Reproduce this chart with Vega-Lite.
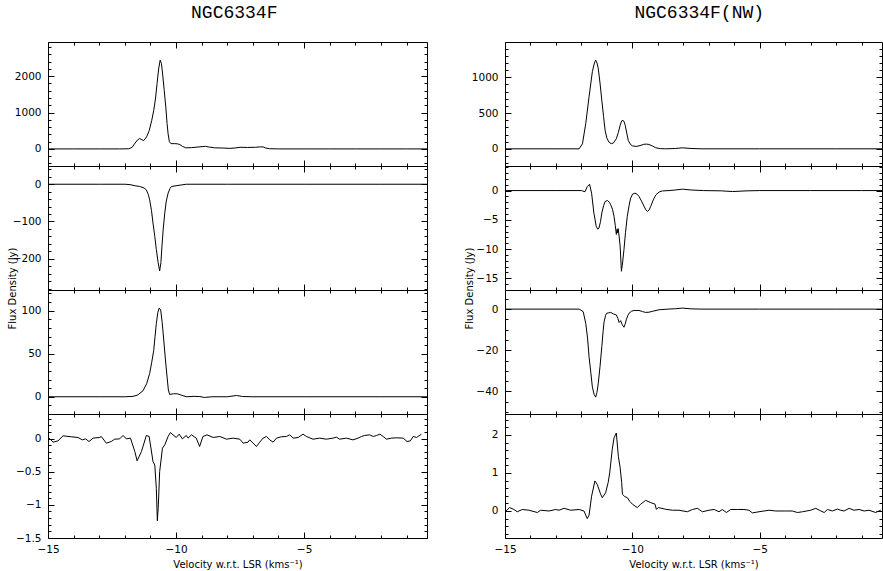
{
  "$schema": "https://vega.github.io/schema/vega-lite/v6.json",
  "background": "white",
  "padding": {"left": 7, "top": 3, "right": 0, "bottom": 0},
  "config": {
    "view": {"stroke": null},
    "axis": {"grid": false, "domainColor": "black", "domainWidth": 1, "tickColor": "black", "tickWidth": 1, "labelColor": "black", "labelFont": "DejaVu Sans", "labelFontSize": 10.5, "labelFlush": false, "labelOverlap": false, "labelBound": false, "titleFont": "DejaVu Sans", "titleFontSize": 10, "titleFontWeight": "normal", "titleColor": "black"},
    "line": {"color": "black", "strokeWidth": 1}
  },
  "datasets": {
    "L1": [{"v":-15,"f":0},{"v":-14,"f":0},{"v":-13,"f":0},{"v":-12.2,"f":0},{"v":-11.85,"f":3},{"v":-11.72,"f":40},{"v":-11.6,"f":160},{"v":-11.5,"f":250},{"v":-11.42,"f":285},{"v":-11.33,"f":250},{"v":-11.26,"f":230},{"v":-11.15,"f":330},{"v":-11.05,"f":500},{"v":-10.95,"f":780},{"v":-10.87,"f":1060},{"v":-10.8,"f":1400},{"v":-10.74,"f":1800},{"v":-10.68,"f":2200},{"v":-10.62,"f":2440},{"v":-10.57,"f":2350},{"v":-10.52,"f":2030},{"v":-10.46,"f":1600},{"v":-10.4,"f":1150},{"v":-10.35,"f":700},{"v":-10.31,"f":414},{"v":-10.26,"f":200},{"v":-10.2,"f":145},{"v":-10.05,"f":145},{"v":-9.95,"f":140},{"v":-9.85,"f":120},{"v":-9.75,"f":70},{"v":-9.62,"f":30},{"v":-9.4,"f":35},{"v":-9.1,"f":55},{"v":-8.95,"f":65},{"v":-8.85,"f":70},{"v":-8.7,"f":50},{"v":-8.5,"f":30},{"v":-8.2,"f":25},{"v":-7.9,"f":15},{"v":-7.7,"f":25},{"v":-7.5,"f":45},{"v":-7.2,"f":40},{"v":-6.9,"f":45},{"v":-6.7,"f":55},{"v":-6.6,"f":55},{"v":-6.5,"f":25},{"v":-6.35,"f":5},{"v":-6,"f":0},{"v":-5,"f":0},{"v":-4,"f":0},{"v":-3,"f":0},{"v":-2,"f":0},{"v":-1,"f":0},{"v":-0.2,"f":0}],
    "L2": [{"v":-15,"f":0},{"v":-13,"f":0},{"v":-12,"f":0},{"v":-11.8,"f":-1},{"v":-11.6,"f":-4},{"v":-11.42,"f":-6},{"v":-11.25,"f":-10},{"v":-11.16,"f":-15},{"v":-11.08,"f":-28},{"v":-11.03,"f":-42},{"v":-10.96,"f":-70},{"v":-10.9,"f":-104},{"v":-10.83,"f":-140},{"v":-10.77,"f":-175},{"v":-10.7,"f":-210},{"v":-10.64,"f":-233},{"v":-10.59,"f":-210},{"v":-10.55,"f":-166},{"v":-10.5,"f":-120},{"v":-10.44,"f":-77},{"v":-10.38,"f":-45},{"v":-10.31,"f":-24},{"v":-10.24,"f":-12},{"v":-10.18,"f":-6},{"v":-10.0,"f":-4},{"v":-9.8,"f":-2},{"v":-9.6,"f":0},{"v":-8,"f":0},{"v":-5,"f":0},{"v":-2,"f":0},{"v":-0.2,"f":0}],
    "L3": [{"v":-15,"f":0},{"v":-13,"f":0},{"v":-12,"f":0},{"v":-11.68,"f":0.5},{"v":-11.5,"f":2},{"v":-11.29,"f":7},{"v":-11.15,"f":15},{"v":-11.03,"f":27},{"v":-10.95,"f":40},{"v":-10.87,"f":54},{"v":-10.82,"f":70},{"v":-10.77,"f":85},{"v":-10.71,"f":98},{"v":-10.66,"f":103},{"v":-10.6,"f":101},{"v":-10.54,"f":86},{"v":-10.48,"f":66},{"v":-10.42,"f":45},{"v":-10.35,"f":23},{"v":-10.3,"f":8},{"v":-10.25,"f":2.7},{"v":-10.1,"f":3.5},{"v":-9.95,"f":3.5},{"v":-9.8,"f":2},{"v":-9.6,"f":0},{"v":-9.3,"f":0.5},{"v":-9.07,"f":0.3},{"v":-8.9,"f":-0.8},{"v":-8.6,"f":0},{"v":-8,"f":0},{"v":-7.64,"f":1.5},{"v":-7.4,"f":0.3},{"v":-7,"f":0},{"v":-5,"f":0},{"v":-2,"f":0},{"v":-0.2,"f":0}],
    "L4": [{"v":-14.96,"f":0.006},{"v":-14.8,"f":-0.055},{"v":-14.61,"f":-0.035},{"v":-14.41,"f":0.041},{"v":-14.09,"f":0.026},{"v":-13.83,"f":0.016},{"v":-13.66,"f":-0.02},{"v":-13.53,"f":-0.005},{"v":-13.4,"f":-0.045},{"v":-13.24,"f":0.006},{"v":-12.98,"f":0.016},{"v":-12.92,"f":0.031},{"v":-12.72,"f":-0.07},{"v":-12.53,"f":-0.045},{"v":-12.4,"f":-0.01},{"v":-12.2,"f":-0.005},{"v":-12.07,"f":0.046},{"v":-11.94,"f":-0.005},{"v":-11.78,"f":0.006},{"v":-11.61,"f":-0.195},{"v":-11.52,"f":-0.336},{"v":-11.35,"f":-0.195},{"v":-11.16,"f":0.046},{"v":-11.05,"f":0.031},{"v":-10.9,"f":-0.346},{"v":-10.83,"f":-0.4},{"v":-10.77,"f":-0.75},{"v":-10.73,"f":-1.24},{"v":-10.69,"f":-1.0},{"v":-10.64,"f":-0.5},{"v":-10.53,"f":-0.145},{"v":-10.44,"f":-0.095},{"v":-10.31,"f":0.031},{"v":-10.22,"f":0.091},{"v":-10.12,"f":0.056},{"v":-9.99,"f":0.016},{"v":-9.88,"f":0.066},{"v":-9.75,"f":-0.005},{"v":-9.6,"f":0.046},{"v":-9.53,"f":0.006},{"v":-9.4,"f":0.056},{"v":-9.21,"f":0.006},{"v":-9.08,"f":-0.12},{"v":-8.95,"f":0.031},{"v":-8.79,"f":0.056},{"v":-8.55,"f":0.016},{"v":-8.29,"f":0.031},{"v":-8.03,"f":-0.01},{"v":-7.77,"f":0.006},{"v":-7.51,"f":-0.01},{"v":-7.38,"f":-0.07},{"v":-7.19,"f":-0.055},{"v":-7.12,"f":-0.02},{"v":-6.99,"f":-0.07},{"v":-6.86,"f":-0.12},{"v":-6.73,"f":-0.055},{"v":-6.6,"f":0.006},{"v":-6.47,"f":0.031},{"v":-6.34,"f":-0.02},{"v":-6.21,"f":-0.055},{"v":-6.08,"f":0.006},{"v":-5.89,"f":0.026},{"v":-5.69,"f":0.031},{"v":-5.56,"f":0.056},{"v":-5.43,"f":0.006},{"v":-5.23,"f":0.016},{"v":-5.04,"f":0.066},{"v":-4.91,"f":0.031},{"v":-4.65,"f":-0.01},{"v":-4.39,"f":0.006},{"v":-4.13,"f":-0.01},{"v":-3.87,"f":0.006},{"v":-3.74,"f":0.021},{"v":-3.61,"f":-0.01},{"v":-3.35,"f":0.006},{"v":-3.09,"f":-0.02},{"v":-2.89,"f":0.006},{"v":-2.76,"f":0.031},{"v":-2.63,"f":0.046},{"v":-2.44,"f":0.056},{"v":-2.3,"f":0.031},{"v":-2.17,"f":0.046},{"v":-2.04,"f":0.066},{"v":-1.91,"f":0.031},{"v":-1.78,"f":-0.01},{"v":-1.59,"f":0.006},{"v":-1.39,"f":0.011},{"v":-1.13,"f":0.006},{"v":-0.98,"f":-0.045},{"v":-0.85,"f":-0.035},{"v":-0.74,"f":0.031},{"v":-0.61,"f":0.016},{"v":-0.42,"f":0.066}],
    "R1": [{"v":-15,"f":0},{"v":-13,"f":0},{"v":-12.09,"f":0},{"v":-11.96,"f":70},{"v":-11.83,"f":352},{"v":-11.7,"f":727},{"v":-11.57,"f":1079},{"v":-11.49,"f":1200},{"v":-11.44,"f":1240},{"v":-11.39,"f":1200},{"v":-11.34,"f":1127},{"v":-11.27,"f":920},{"v":-11.2,"f":680},{"v":-11.13,"f":450},{"v":-11.07,"f":258},{"v":-11.0,"f":150},{"v":-10.92,"f":93},{"v":-10.83,"f":72},{"v":-10.75,"f":80},{"v":-10.63,"f":141},{"v":-10.55,"f":230},{"v":-10.48,"f":328},{"v":-10.42,"f":390},{"v":-10.37,"f":400},{"v":-10.32,"f":375},{"v":-10.28,"f":328},{"v":-10.22,"f":220},{"v":-10.16,"f":117},{"v":-10.08,"f":65},{"v":-10.0,"f":42},{"v":-9.85,"f":33},{"v":-9.7,"f":45},{"v":-9.55,"f":63},{"v":-9.45,"f":66},{"v":-9.35,"f":61},{"v":-9.2,"f":38},{"v":-9.08,"f":14},{"v":-8.9,"f":3},{"v":-8.7,"f":0},{"v":-8.3,"f":5},{"v":-8.04,"f":14},{"v":-7.7,"f":5},{"v":-7.3,"f":0},{"v":-5,"f":0},{"v":-2,"f":0},{"v":-0.2,"f":0}],
    "R2": [{"v":-15,"f":0},{"v":-13,"f":0},{"v":-12,"f":0},{"v":-11.86,"f":-0.2},{"v":-11.77,"f":0.68},{"v":-11.68,"f":1.08},{"v":-11.6,"f":-0.45},{"v":-11.51,"f":-3.85},{"v":-11.42,"f":-6.1},{"v":-11.36,"f":-6.6},{"v":-11.31,"f":-6.4},{"v":-11.25,"f":-5.3},{"v":-11.2,"f":-3.85},{"v":-11.13,"f":-2.6},{"v":-11.07,"f":-1.87},{"v":-10.98,"f":-1.7},{"v":-10.9,"f":-2.0},{"v":-10.85,"f":-2.43},{"v":-10.78,"f":-3.2},{"v":-10.72,"f":-4.4},{"v":-10.67,"f":-6.0},{"v":-10.63,"f":-7.5},{"v":-10.6,"f":-6.6},{"v":-10.58,"f":-7.2},{"v":-10.56,"f":-6.5},{"v":-10.52,"f":-7.8},{"v":-10.48,"f":-9.5},{"v":-10.43,"f":-13.8},{"v":-10.38,"f":-12.2},{"v":-10.33,"f":-10.1},{"v":-10.27,"f":-7.2},{"v":-10.2,"f":-4.4},{"v":-10.13,"f":-2.6},{"v":-10.07,"f":-1.3},{"v":-9.99,"f":-0.6},{"v":-9.9,"f":-0.45},{"v":-9.82,"f":-0.6},{"v":-9.74,"f":-1.0},{"v":-9.64,"f":-1.8},{"v":-9.54,"f":-2.7},{"v":-9.47,"f":-3.3},{"v":-9.41,"f":-3.57},{"v":-9.34,"f":-3.3},{"v":-9.28,"f":-2.7},{"v":-9.18,"f":-1.6},{"v":-9.08,"f":-0.74},{"v":-8.95,"f":-0.25},{"v":-8.82,"f":-0.06},{"v":-8.56,"f":0},{"v":-8.3,"f":0.1},{"v":-8.04,"f":0.24},{"v":-7.7,"f":0.1},{"v":-7.2,"f":0},{"v":-6.5,"f":-0.05},{"v":-6.07,"f":-0.17},{"v":-5.5,"f":-0.05},{"v":-5,"f":0},{"v":-3,"f":0},{"v":-1,"f":0},{"v":-0.2,"f":0}],
    "R3": [{"v":-15,"f":0},{"v":-13,"f":0},{"v":-12.09,"f":0},{"v":-11.93,"f":-1.2},{"v":-11.83,"f":-6.9},{"v":-11.76,"f":-14},{"v":-11.7,"f":-23.2},{"v":-11.63,"f":-31},{"v":-11.57,"f":-37.9},{"v":-11.5,"f":-41.5},{"v":-11.44,"f":-42.8},{"v":-11.39,"f":-40.5},{"v":-11.34,"f":-36.3},{"v":-11.27,"f":-28},{"v":-11.2,"f":-18.3},{"v":-11.15,"f":-11},{"v":-11.11,"f":-6.1},{"v":-11.05,"f":-3},{"v":-11.01,"f":-2.0},{"v":-10.93,"f":-1.8},{"v":-10.85,"f":-1.6},{"v":-10.75,"f":-2.3},{"v":-10.68,"f":-2.6},{"v":-10.63,"f":-2.8},{"v":-10.57,"f":-4.5},{"v":-10.52,"f":-6.5},{"v":-10.46,"f":-5.6},{"v":-10.4,"f":-7.5},{"v":-10.33,"f":-8.8},{"v":-10.28,"f":-7.2},{"v":-10.24,"f":-5.2},{"v":-10.18,"f":-3.2},{"v":-10.13,"f":-2.0},{"v":-10.03,"f":-1.0},{"v":-9.93,"f":-0.65},{"v":-9.74,"f":-0.65},{"v":-9.6,"f":-1.2},{"v":-9.48,"f":-1.6},{"v":-9.35,"f":-1.5},{"v":-9.22,"f":-1.1},{"v":-8.95,"f":-0.3},{"v":-8.6,"f":0},{"v":-8.3,"f":0.2},{"v":-8.04,"f":0.5},{"v":-7.7,"f":0.15},{"v":-7.3,"f":0},{"v":-5,"f":0},{"v":-2,"f":0},{"v":-0.2,"f":0}],
    "R4": [{"v":-15,"f":-0.02},{"v":-14.82,"f":0.09},{"v":-14.65,"f":0.04},{"v":-14.52,"f":-0.02},{"v":-14.32,"f":0.04},{"v":-14.06,"f":0.02},{"v":-13.73,"f":-0.04},{"v":-13.6,"f":0.02},{"v":-13.27,"f":0},{"v":-13.01,"f":0.04},{"v":-12.88,"f":0.02},{"v":-12.68,"f":0.07},{"v":-12.42,"f":0.02},{"v":-12.09,"f":0.04},{"v":-11.9,"f":0.0},{"v":-11.77,"f":-0.2},{"v":-11.7,"f":-0.11},{"v":-11.6,"f":0.39},{"v":-11.47,"f":0.79},{"v":-11.38,"f":0.7},{"v":-11.25,"f":0.45},{"v":-11.18,"f":0.35},{"v":-11.05,"f":0.48},{"v":-10.95,"f":0.75},{"v":-10.89,"f":1.0},{"v":-10.79,"f":1.62},{"v":-10.72,"f":1.92},{"v":-10.63,"f":2.05},{"v":-10.55,"f":1.44},{"v":-10.48,"f":1.14},{"v":-10.42,"f":0.75},{"v":-10.39,"f":0.44},{"v":-10.3,"f":0.38},{"v":-10.2,"f":0.35},{"v":-10.1,"f":0.25},{"v":-10.0,"f":0.18},{"v":-9.81,"f":0.09},{"v":-9.67,"f":0.18},{"v":-9.48,"f":0.28},{"v":-9.28,"f":0.22},{"v":-9.11,"f":0.18},{"v":-9.06,"f":0.045},{"v":-8.98,"f":0.09},{"v":-8.69,"f":0.045},{"v":-8.43,"f":0.02},{"v":-8.17,"f":0.02},{"v":-7.84,"f":-0.02},{"v":-7.64,"f":0.04},{"v":-7.45,"f":0.07},{"v":-7.25,"f":-0.02},{"v":-6.99,"f":0.02},{"v":-6.79,"f":0.04},{"v":-6.6,"f":-0.02},{"v":-6.47,"f":0.04},{"v":-6.31,"f":-0.04},{"v":-6.14,"f":0.04},{"v":-5.88,"f":0.04},{"v":-5.62,"f":0.04},{"v":-5.42,"f":0.02},{"v":-5.29,"f":-0.05},{"v":-5.03,"f":-0.02},{"v":-4.63,"f":0.02},{"v":-4.37,"f":0},{"v":-3.98,"f":0},{"v":-3.72,"f":0},{"v":-3.52,"f":-0.04},{"v":-3.32,"f":-0.02},{"v":-3.0,"f":0.02},{"v":-2.8,"f":0.07},{"v":-2.6,"f":0},{"v":-2.47,"f":-0.04},{"v":-2.34,"f":0.04},{"v":-2.15,"f":0},{"v":-1.95,"f":0.05},{"v":-1.82,"f":0.02},{"v":-1.69,"f":0},{"v":-1.49,"f":0.07},{"v":-1.3,"f":0.02},{"v":-1.1,"f":0.04},{"v":-0.9,"f":0},{"v":-0.71,"f":0.02},{"v":-0.45,"f":-0.04},{"v":-0.25,"f":0.02}]
  },
  "hconcat": [
    {
      "title": {"text": "NGC6334F", "font": "Liberation Mono", "fontSize": 18, "fontWeight": "normal", "color": "black", "anchor": "middle", "offset": 20, "dx": 17},
      "spacing": 0,
      "bounds": "flush",
      "vconcat": [
        {"width": 379, "height": 124, "data": {"name": "L1"},
         "layer": [
          {"mark": {"type": "line", "clip": true},
           "encoding": {
            "x": {"field": "v", "type": "quantitative", "scale": {"domain": [-15, -0.2], "nice": false, "zero": false},
                  "axis": {"orient": "bottom", "values": [-15,-14,-13,-12,-11,-10,-9,-8,-7,-6,-5,-4,-3,-2,-1], "tickSize": {"condition": {"test": "datum.value % 5 === 0", "value": -6}, "value": -3}, "labels": false, "title": null}},
            "y": {"field": "f", "type": "quantitative", "scale": {"domain": [-470, 2940], "nice": false, "zero": false},
                  "axis": {"orient": "left", "values": [-400,-200,0,200,400,600,800,1000,1200,1400,1600,1800,2000,2200,2400,2600,2800], "format": "~f", "tickSize": {"condition": {"test": "abs(datum.value) % 1000 === 0", "value": -6}, "value": -3}, "labelExpr": "abs(datum.value) % 1000 === 0 ? datum.label : ''", "labelPadding": 13, "title": null}}
           }},
          {"mark": {"type": "line", "opacity": 0},
           "encoding": {
            "x": {"field": "v", "type": "quantitative", "scale": {"domain": [-15, -0.2], "nice": false, "zero": false},
                  "axis": {"orient": "top", "values": [-15,-14,-13,-12,-11,-10,-9,-8,-7,-6,-5,-4,-3,-2,-1], "tickSize": {"condition": {"test": "datum.value % 5 === 0", "value": -6}, "value": -3}, "labels": false, "title": null}},
            "y": {"field": "f", "type": "quantitative", "scale": {"domain": [-470, 2940], "nice": false, "zero": false},
                  "axis": {"orient": "right", "values": [-400,-200,0,200,400,600,800,1000,1200,1400,1600,1800,2000,2200,2400,2600,2800], "tickSize": {"condition": {"test": "abs(datum.value) % 1000 === 0", "value": -6}, "value": -3}, "labels": false, "title": null}}
           }}
         ],
         "resolve": {"axis": {"x": "independent", "y": "independent"}}
        },
        {"width": 379, "height": 124, "data": {"name": "L2"},
         "layer": [
          {"mark": {"type": "line", "clip": true},
           "encoding": {
            "x": {"field": "v", "type": "quantitative", "scale": {"domain": [-15, -0.2], "nice": false, "zero": false},
                  "axis": {"orient": "bottom", "values": [-15,-14,-13,-12,-11,-10,-9,-8,-7,-6,-5,-4,-3,-2,-1], "tickSize": {"condition": {"test": "datum.value % 5 === 0", "value": -6}, "value": -3}, "labels": false, "title": null}},
            "y": {"field": "f", "type": "quantitative", "scale": {"domain": [-284, 49], "nice": false, "zero": false},
                  "axis": {"orient": "left", "values": [-280,-260,-240,-220,-200,-180,-160,-140,-120,-100,-80,-60,-40,-20,0,20,40], "format": "~f", "tickSize": {"condition": {"test": "abs(datum.value) % 100 === 0", "value": -6}, "value": -3}, "labelExpr": "abs(datum.value) % 100 === 0 ? datum.label : ''", "labelPadding": 13, "title": "Flux Density (Jy)", "titleX": -36, "titleY": 122, "titleAngle": 270, "titleAlign": "center", "titleBaseline": "middle"}}
           }},
          {"mark": {"type": "line", "opacity": 0},
           "encoding": {
            "x": {"field": "v", "type": "quantitative", "scale": {"domain": [-15, -0.2], "nice": false, "zero": false},
                  "axis": {"orient": "top", "values": [-15,-14,-13,-12,-11,-10,-9,-8,-7,-6,-5,-4,-3,-2,-1], "tickSize": {"condition": {"test": "datum.value % 5 === 0", "value": -6}, "value": -3}, "labels": false, "title": null}},
            "y": {"field": "f", "type": "quantitative", "scale": {"domain": [-284, 49], "nice": false, "zero": false},
                  "axis": {"orient": "right", "values": [-280,-260,-240,-220,-200,-180,-160,-140,-120,-100,-80,-60,-40,-20,0,20,40], "tickSize": {"condition": {"test": "abs(datum.value) % 100 === 0", "value": -6}, "value": -3}, "labels": false, "title": null}}
           }}
         ],
         "resolve": {"axis": {"x": "independent", "y": "independent"}}
        },
        {"width": 379, "height": 124, "data": {"name": "L3"},
         "layer": [
          {"mark": {"type": "line", "clip": true},
           "encoding": {
            "x": {"field": "v", "type": "quantitative", "scale": {"domain": [-15, -0.2], "nice": false, "zero": false},
                  "axis": {"orient": "bottom", "values": [-15,-14,-13,-12,-11,-10,-9,-8,-7,-6,-5,-4,-3,-2,-1], "tickSize": {"condition": {"test": "datum.value % 5 === 0", "value": -6}, "value": -3}, "labels": false, "title": null}},
            "y": {"field": "f", "type": "quantitative", "scale": {"domain": [-20, 124], "nice": false, "zero": false},
                  "axis": {"orient": "left", "values": [-20,-10,0,10,20,30,40,50,60,70,80,90,100,110,120], "format": "~f", "tickSize": {"condition": {"test": "abs(datum.value) % 50 === 0", "value": -6}, "value": -3}, "labelExpr": "abs(datum.value) % 50 === 0 ? datum.label : ''", "labelPadding": 13, "title": null}}
           }},
          {"mark": {"type": "line", "opacity": 0},
           "encoding": {
            "x": {"field": "v", "type": "quantitative", "scale": {"domain": [-15, -0.2], "nice": false, "zero": false},
                  "axis": {"orient": "top", "values": [-15,-14,-13,-12,-11,-10,-9,-8,-7,-6,-5,-4,-3,-2,-1], "tickSize": {"condition": {"test": "datum.value % 5 === 0", "value": -6}, "value": -3}, "labels": false, "title": null}},
            "y": {"field": "f", "type": "quantitative", "scale": {"domain": [-20, 124], "nice": false, "zero": false},
                  "axis": {"orient": "right", "values": [-20,-10,0,10,20,30,40,50,60,70,80,90,100,110,120], "tickSize": {"condition": {"test": "abs(datum.value) % 50 === 0", "value": -6}, "value": -3}, "labels": false, "title": null}}
           }}
         ],
         "resolve": {"axis": {"x": "independent", "y": "independent"}}
        },
        {"width": 379, "height": 124, "data": {"name": "L4"},
         "layer": [
          {"mark": {"type": "line", "clip": true},
           "encoding": {
            "x": {"field": "v", "type": "quantitative", "scale": {"domain": [-15, -0.2], "nice": false, "zero": false},
                  "axis": {"orient": "bottom", "values": [-15,-14,-13,-12,-11,-10,-9,-8,-7,-6,-5,-4,-3,-2,-1], "format": "~f", "tickSize": {"condition": {"test": "datum.value % 5 === 0", "value": -6}, "value": -3}, "labelExpr": "datum.value % 5 === 0 ? datum.label : ''", "labelPadding": 12, "title": "Velocity w.r.t. LSR (kms⁻¹)", "titlePadding": 2}},
            "y": {"field": "f", "type": "quantitative", "scale": {"domain": [-1.5, 0.37], "nice": false, "zero": false},
                  "axis": {"orient": "left", "values": [-1.5,-1.4,-1.3,-1.2,-1.1,-1,-0.9,-0.8,-0.7,-0.6,-0.5,-0.4,-0.3,-0.2,-0.1,0,0.1,0.2,0.3], "format": "~f", "tickSize": {"condition": {"test": "abs(round(datum.value*10)) % 5 === 0", "value": -6}, "value": -3}, "labelExpr": "abs(round(datum.value*10)) % 5 === 0 ? datum.label : ''", "labelPadding": 13, "title": null}}
           }},
          {"mark": {"type": "line", "opacity": 0},
           "encoding": {
            "x": {"field": "v", "type": "quantitative", "scale": {"domain": [-15, -0.2], "nice": false, "zero": false},
                  "axis": {"orient": "top", "values": [-15,-14,-13,-12,-11,-10,-9,-8,-7,-6,-5,-4,-3,-2,-1], "tickSize": {"condition": {"test": "datum.value % 5 === 0", "value": -6}, "value": -3}, "labels": false, "title": null}},
            "y": {"field": "f", "type": "quantitative", "scale": {"domain": [-1.5, 0.37], "nice": false, "zero": false},
                  "axis": {"orient": "right", "values": [-1.5,-1.4,-1.3,-1.2,-1.1,-1,-0.9,-0.8,-0.7,-0.6,-0.5,-0.4,-0.3,-0.2,-0.1,0,0.1,0.2,0.3], "tickSize": {"condition": {"test": "abs(round(datum.value*10)) % 5 === 0", "value": -6}, "value": -3}, "labels": false, "title": null}}
           }}
         ],
         "resolve": {"axis": {"x": "independent", "y": "independent"}}
        }
      ]
    },
    {
      "title": {"text": "NGC6334F(NW)", "font": "Liberation Mono", "fontSize": 18, "fontWeight": "normal", "color": "black", "anchor": "middle", "offset": 20, "dx": 26},
      "spacing": 0,
      "bounds": "flush",
      "vconcat": [
        {"width": 377, "height": 124, "data": {"name": "R1"},
         "layer": [
          {"mark": {"type": "line", "clip": true},
           "encoding": {
            "x": {"field": "v", "type": "quantitative", "scale": {"domain": [-15, -0.2], "nice": false, "zero": false},
                  "axis": {"orient": "bottom", "values": [-15,-14,-13,-12,-11,-10,-9,-8,-7,-6,-5,-4,-3,-2,-1], "tickSize": {"condition": {"test": "datum.value % 5 === 0", "value": -6}, "value": -3}, "labels": false, "title": null}},
            "y": {"field": "f", "type": "quantitative", "scale": {"domain": [-240, 1493], "nice": false, "zero": false},
                  "axis": {"orient": "left", "values": [-200,-100,0,100,200,300,400,500,600,700,800,900,1000,1100,1200,1300,1400], "format": "~f", "tickSize": {"condition": {"test": "abs(datum.value) % 500 === 0", "value": -6}, "value": -3}, "labelExpr": "abs(datum.value) % 500 === 0 ? datum.label : ''", "labelPadding": 13, "title": null}}
           }},
          {"mark": {"type": "line", "opacity": 0},
           "encoding": {
            "x": {"field": "v", "type": "quantitative", "scale": {"domain": [-15, -0.2], "nice": false, "zero": false},
                  "axis": {"orient": "top", "values": [-15,-14,-13,-12,-11,-10,-9,-8,-7,-6,-5,-4,-3,-2,-1], "tickSize": {"condition": {"test": "datum.value % 5 === 0", "value": -6}, "value": -3}, "labels": false, "title": null}},
            "y": {"field": "f", "type": "quantitative", "scale": {"domain": [-240, 1493], "nice": false, "zero": false},
                  "axis": {"orient": "right", "values": [-200,-100,0,100,200,300,400,500,600,700,800,900,1000,1100,1200,1300,1400], "tickSize": {"condition": {"test": "abs(datum.value) % 500 === 0", "value": -6}, "value": -3}, "labels": false, "title": null}}
           }}
         ],
         "resolve": {"axis": {"x": "independent", "y": "independent"}}
        },
        {"width": 377, "height": 124, "data": {"name": "R2"},
         "layer": [
          {"mark": {"type": "line", "clip": true},
           "encoding": {
            "x": {"field": "v", "type": "quantitative", "scale": {"domain": [-15, -0.2], "nice": false, "zero": false},
                  "axis": {"orient": "bottom", "values": [-15,-14,-13,-12,-11,-10,-9,-8,-7,-6,-5,-4,-3,-2,-1], "tickSize": {"condition": {"test": "datum.value % 5 === 0", "value": -6}, "value": -3}, "labels": false, "title": null}},
            "y": {"field": "f", "type": "quantitative", "scale": {"domain": [-17, 4.2], "nice": false, "zero": false},
                  "axis": {"orient": "left", "values": [-17,-16,-15,-14,-13,-12,-11,-10,-9,-8,-7,-6,-5,-4,-3,-2,-1,0,1,2,3,4], "format": "~f", "tickSize": {"condition": {"test": "abs(datum.value) % 5 === 0", "value": -6}, "value": -3}, "labelExpr": "abs(datum.value) % 5 === 0 ? datum.label : ''", "labelPadding": 13, "title": "Flux Density (Jy)", "titleX": -36, "titleY": 122, "titleAngle": 270, "titleAlign": "center", "titleBaseline": "middle"}}
           }},
          {"mark": {"type": "line", "opacity": 0},
           "encoding": {
            "x": {"field": "v", "type": "quantitative", "scale": {"domain": [-15, -0.2], "nice": false, "zero": false},
                  "axis": {"orient": "top", "values": [-15,-14,-13,-12,-11,-10,-9,-8,-7,-6,-5,-4,-3,-2,-1], "tickSize": {"condition": {"test": "datum.value % 5 === 0", "value": -6}, "value": -3}, "labels": false, "title": null}},
            "y": {"field": "f", "type": "quantitative", "scale": {"domain": [-17, 4.2], "nice": false, "zero": false},
                  "axis": {"orient": "right", "values": [-17,-16,-15,-14,-13,-12,-11,-10,-9,-8,-7,-6,-5,-4,-3,-2,-1,0,1,2,3,4], "tickSize": {"condition": {"test": "abs(datum.value) % 5 === 0", "value": -6}, "value": -3}, "labels": false, "title": null}}
           }}
         ],
         "resolve": {"axis": {"x": "independent", "y": "independent"}}
        },
        {"width": 377, "height": 124, "data": {"name": "R3"},
         "layer": [
          {"mark": {"type": "line", "clip": true},
           "encoding": {
            "x": {"field": "v", "type": "quantitative", "scale": {"domain": [-15, -0.2], "nice": false, "zero": false},
                  "axis": {"orient": "bottom", "values": [-15,-14,-13,-12,-11,-10,-9,-8,-7,-6,-5,-4,-3,-2,-1], "tickSize": {"condition": {"test": "datum.value % 5 === 0", "value": -6}, "value": -3}, "labels": false, "title": null}},
            "y": {"field": "f", "type": "quantitative", "scale": {"domain": [-51, 9.3], "nice": false, "zero": false},
                  "axis": {"orient": "left", "values": [-50,-45,-40,-35,-30,-25,-20,-15,-10,-5,0,5], "format": "~f", "tickSize": {"condition": {"test": "abs(datum.value) % 20 === 0", "value": -6}, "value": -3}, "labelExpr": "abs(datum.value) % 20 === 0 ? datum.label : ''", "labelPadding": 13, "title": null}}
           }},
          {"mark": {"type": "line", "opacity": 0},
           "encoding": {
            "x": {"field": "v", "type": "quantitative", "scale": {"domain": [-15, -0.2], "nice": false, "zero": false},
                  "axis": {"orient": "top", "values": [-15,-14,-13,-12,-11,-10,-9,-8,-7,-6,-5,-4,-3,-2,-1], "tickSize": {"condition": {"test": "datum.value % 5 === 0", "value": -6}, "value": -3}, "labels": false, "title": null}},
            "y": {"field": "f", "type": "quantitative", "scale": {"domain": [-51, 9.3], "nice": false, "zero": false},
                  "axis": {"orient": "right", "values": [-50,-45,-40,-35,-30,-25,-20,-15,-10,-5,0,5], "tickSize": {"condition": {"test": "abs(datum.value) % 20 === 0", "value": -6}, "value": -3}, "labels": false, "title": null}}
           }}
         ],
         "resolve": {"axis": {"x": "independent", "y": "independent"}}
        },
        {"width": 377, "height": 124, "data": {"name": "R4"},
         "layer": [
          {"mark": {"type": "line", "clip": true},
           "encoding": {
            "x": {"field": "v", "type": "quantitative", "scale": {"domain": [-15, -0.2], "nice": false, "zero": false},
                  "axis": {"orient": "bottom", "values": [-15,-14,-13,-12,-11,-10,-9,-8,-7,-6,-5,-4,-3,-2,-1], "format": "~f", "tickSize": {"condition": {"test": "datum.value % 5 === 0", "value": -6}, "value": -3}, "labelExpr": "datum.value % 5 === 0 ? datum.label : ''", "labelPadding": 12, "title": "Velocity w.r.t. LSR (kms⁻¹)", "titlePadding": 2}},
            "y": {"field": "f", "type": "quantitative", "scale": {"domain": [-0.71, 2.55], "nice": false, "zero": false},
                  "axis": {"orient": "left", "values": [-0.6,-0.4,-0.2,0,0.2,0.4,0.6,0.8,1,1.2,1.4,1.6,1.8,2,2.2,2.4], "format": "~f", "tickSize": {"condition": {"test": "abs(round(datum.value*10)) % 10 === 0", "value": -6}, "value": -3}, "labelExpr": "abs(round(datum.value*10)) % 10 === 0 ? datum.label : ''", "labelPadding": 13, "title": null}}
           }},
          {"mark": {"type": "line", "opacity": 0},
           "encoding": {
            "x": {"field": "v", "type": "quantitative", "scale": {"domain": [-15, -0.2], "nice": false, "zero": false},
                  "axis": {"orient": "top", "values": [-15,-14,-13,-12,-11,-10,-9,-8,-7,-6,-5,-4,-3,-2,-1], "tickSize": {"condition": {"test": "datum.value % 5 === 0", "value": -6}, "value": -3}, "labels": false, "title": null}},
            "y": {"field": "f", "type": "quantitative", "scale": {"domain": [-0.71, 2.55], "nice": false, "zero": false},
                  "axis": {"orient": "right", "values": [-0.6,-0.4,-0.2,0,0.2,0.4,0.6,0.8,1,1.2,1.4,1.6,1.8,2,2.2,2.4], "tickSize": {"condition": {"test": "abs(round(datum.value*10)) % 10 === 0", "value": -6}, "value": -3}, "labels": false, "title": null}}
           }}
         ],
         "resolve": {"axis": {"x": "independent", "y": "independent"}}
        }
      ]
    }
  ],
  "spacing": 36
}
